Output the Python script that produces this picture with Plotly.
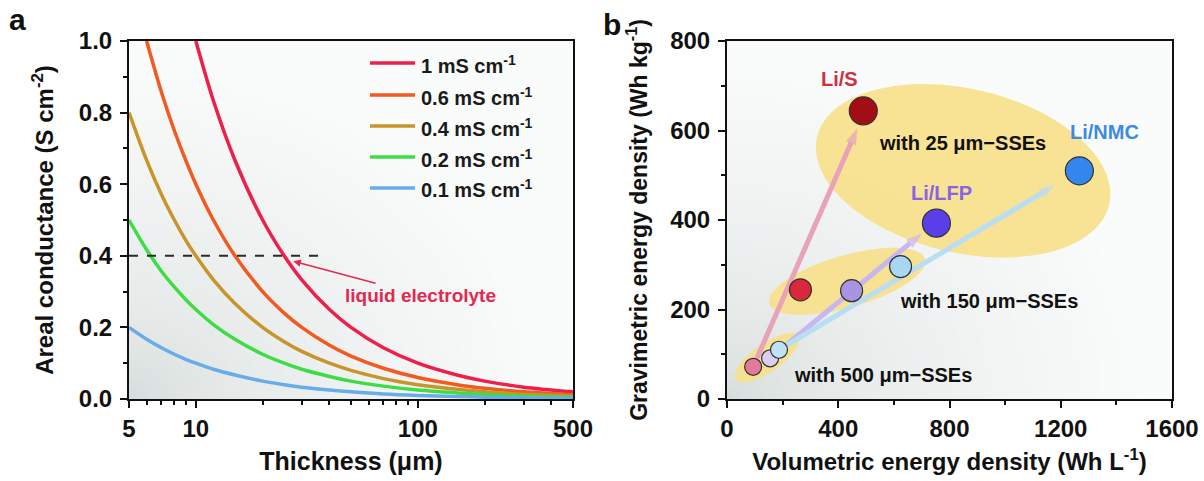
import math, zlib, struct, base64
import plotly.graph_objects as go

# ---------------- data: panel a ----------------
thickness = [5, 6, 7, 8, 9, 10, 12, 15, 20, 25, 30, 40, 50, 70, 100, 150, 200, 300, 500]
cond_1mS = [None, None, None, None, None, 1.0, 0.833, 0.667, 0.5, 0.4, 0.333, 0.25, 0.2, 0.143, 0.1, 0.067, 0.05, 0.033, 0.02]
cond_06mS = [None, 1.0, 0.857, 0.75, 0.667, 0.6, 0.5, 0.4, 0.3, 0.24, 0.2, 0.15, 0.12, 0.086, 0.06, 0.04, 0.03, 0.02, 0.012]
cond_04mS = [0.8, 0.667, 0.571, 0.5, 0.444, 0.4, 0.333, 0.267, 0.2, 0.16, 0.133, 0.1, 0.08, 0.057, 0.04, 0.027, 0.02, 0.013, 0.008]
cond_02mS = [0.5, 0.417, 0.357, 0.313, 0.278, 0.25, 0.208, 0.167, 0.125, 0.1, 0.083, 0.063, 0.05, 0.036, 0.025, 0.017, 0.0125, 0.008, 0.005]
cond_01mS = [0.2, 0.167, 0.143, 0.125, 0.111, 0.1, 0.083, 0.067, 0.05, 0.04, 0.033, 0.025, 0.02, 0.014, 0.01, 0.007, 0.005, 0.003, 0.002]
series_names = ["1 mS cm<sup>-1</sup>", "0.6 mS cm<sup>-1</sup>", "0.4 mS cm<sup>-1</sup>",
                "0.2 mS cm<sup>-1</sup>", "0.1 mS cm<sup>-1</sup>"]
liquid_x = [5, 36]
liquid_y = [0.4, 0.4]

# ---------------- data: panel b ----------------
chem_names = ["Li/S", "Li/LFP", "Li/NMC"]
sse_labels = ["500 µm", "150 µm", "25 µm"]
lis_vol = [94, 264, 490]
lis_grav = [72, 244, 644]
lfp_vol = [155, 448, 753]
lfp_grav = [91, 242, 393]
nmc_vol = [187, 624, 1267]
nmc_grav = [110, 296, 510]
arrow_tip_vol = [469, 701, 1180]
arrow_tip_grav = [605, 370, 478]
group_labels = ["with 500 μm−SSEs", "with 150 μm−SSEs", "with 25 μm−SSEs"]
group_label_vol = [561, 942, 845]
group_label_grav = [54, 218, 573]
ellipse_center_vol = [144, 432, 849]
ellipse_center_grav = [92, 263, 510]

FONT = "Liberation Sans, Arial, sans-serif"
W, H = 1204, 481
AX_L, AX_R = 129, 573
BX_L, BX_R = 727, 1172
PY_T, PY_B = 41, 399


def gradient_png(n=96):
    lo = (212, 219, 218)
    hi = (250, 251, 251)
    rows = []
    for j in range(n):
        v = 1 - j / (n - 1)
        row = bytearray([0])
        for i in range(n):
            u = i / (n - 1)
            t = min(1.0, math.sqrt(u * u + v * v) / 0.95) ** 0.55
            for k in range(3):
                row.append(int(round(lo[k] + (hi[k] - lo[k]) * t)))
        rows.append(bytes(row))
    raw = b"".join(rows)

    def chunk(tag, data):
        c = struct.pack(">I", len(data)) + tag + data
        return c + struct.pack(">I", zlib.crc32(tag + data) & 0xffffffff)

    png = b"\x89PNG\r\n\x1a\n" + chunk(b"IHDR", struct.pack(">IIBBBBB", n, n, 8, 2, 0, 0, 0)) \
        + chunk(b"IDAT", zlib.compress(raw, 9)) + chunk(b"IEND", b"")
    return "data:image/png;base64," + base64.b64encode(png).decode()


bg = gradient_png()
fig = go.Figure()

# ---------- panel a ----------
curve_colors = ["#ee1f4b", "#f25a20", "#c8952b", "#3fdc45", "#68acea"]
for name, ys, col in zip(series_names, [cond_1mS, cond_06mS, cond_04mS, cond_02mS, cond_01mS], curve_colors):
    fig.add_trace(go.Scatter(x=thickness, y=ys, mode="lines", name=name, showlegend=False,
                             line=dict(color=col, width=3.5, shape="spline", smoothing=0.8),
                             xaxis="x", yaxis="y"))
fig.add_trace(go.Scatter(x=liquid_x, y=liquid_y, mode="lines", showlegend=False, name="liquid electrolyte",
                         line=dict(color="#2a2a2a", width=2, dash="dash"), xaxis="x", yaxis="y"))

# ---------- panel b ----------
arrow_colors = ["#e9a3b8", "#c8b6ef", "#b9ddf3"]
starts = [(lis_vol[0], lis_grav[0]), (lfp_vol[0], lfp_grav[0]), (nmc_vol[0], nmc_grav[0])]
for (sx, sy), tx, ty, col in zip(starts, arrow_tip_vol, arrow_tip_grav, arrow_colors):
    fig.add_trace(go.Scatter(x=[sx, tx], y=[sy, ty], mode="lines+markers", showlegend=False,
                             line=dict(color=col, width=5),
                             marker=dict(symbol=["circle", "arrow"], size=[0, 17], color=col,
                                         angleref="previous", line=dict(width=0)),
                             hoverinfo="skip", xaxis="x2", yaxis="y2"))

marker_sizes = [17, 22, 28]
marker_colors = [["#e27b99", "#d9283c", "#a20d16"],
                 ["#dacff3", "#a994e2", "#5b3fe6"],
                 ["#c0e1f6", "#a9d6f2", "#3386ee"]]
for name, xs, ys, cols in zip(chem_names, [lis_vol, lfp_vol, nmc_vol], [lis_grav, lfp_grav, nmc_grav], marker_colors):
    fig.add_trace(go.Scatter(x=xs, y=ys, mode="markers", name=name, showlegend=False, text=sse_labels,
                             marker=dict(size=marker_sizes, color=cols, opacity=1,
                                         line=dict(color="#333333", width=1.2)),
                             xaxis="x2", yaxis="y2"))

# ---------- ellipses ----------
x_ppu = (BX_R - BX_L) / 1600.0
y_ppu = (PY_B - PY_T) / 800.0
ell_geom = [(38, 14, -35), (81, 26, -16), (150, 82, 13)]
shapes = []
for cx, cy, (a, b, ang) in zip(ellipse_center_vol, ellipse_center_grav, ell_geom):
    th = math.radians(ang)
    pts = []
    for k in range(72):
        p = 2 * math.pi * k / 72
        dx = a * math.cos(p) * math.cos(th) - b * math.sin(p) * math.sin(th)
        dy = a * math.cos(p) * math.sin(th) + b * math.sin(p) * math.cos(th)
        pts.append((cx + dx / x_ppu, cy - dy / y_ppu))
    path = "M " + " L ".join(f"{x:.2f},{y:.2f}" for x, y in pts) + " Z"
    shapes.append(dict(type="path", path=path, xref="x2", yref="y2", layer="between",
                       fillcolor="rgba(247,224,138,0.92)", line=dict(width=0)))

# ---------- manual legend (panel a) ----------
leg_rows_px = [63, 95, 126, 157, 188]
annotations = []
for name, col, ry in zip(series_names, curve_colors, leg_rows_px):
    shapes.append(dict(type="line", xref="paper", yref="paper",
                       x0=370 / W, x1=415 / W, y0=1 - ry / H, y1=1 - ry / H,
                       line=dict(color=col, width=3.5)))
    annotations.append(dict(text=name, xref="paper", yref="paper", x=419 / W, y=1 - (ry + 1) / H,
                            xanchor="left", yanchor="middle", showarrow=False,
                            font=dict(family=FONT, size=20, color="#1a1a1a", weight="bold")))

annotations.append(dict(text="liquid electrolyte", x=math.log10(27.5), y=0.385, xref="x", yref="y",
                        ax=127, ay=34, showarrow=True, arrowhead=2, arrowsize=1, arrowwidth=1.5,
                        arrowcolor="#e3294f", standoff=0,
                        font=dict(family=FONT, size=19, color="#e3294f", weight="bold")))

label_cols = ["#d2303f", "#8a63e6", "#3b8ae6"]
label_pos = [(403, 714), (773, 461), (1359, 596)]
for name, col, (lx, ly) in zip(chem_names, label_cols, label_pos):
    annotations.append(dict(text=name, x=lx, y=ly, xref="x2", yref="y2", showarrow=False,
                            font=dict(family=FONT, size=20, color=col, weight="bold")))
for txt, lx, ly in zip(group_labels, group_label_vol, group_label_grav):
    annotations.append(dict(text=txt, x=lx, y=ly, xref="x2", yref="y2", showarrow=False,
                            font=dict(family=FONT, size=20, color="#111111", weight="bold")))

annotations.append(dict(text="a", x=17 / W, y=1 - 19 / H, xref="paper", yref="paper", showarrow=False,
                        xanchor="center", yanchor="middle",
                        font=dict(family=FONT, size=30, color="#111111", weight="bold")))
annotations.append(dict(text="b", x=612 / W, y=1 - 24 / H, xref="paper", yref="paper", showarrow=False,
                        xanchor="center", yanchor="middle",
                        font=dict(family=FONT, size=30, color="#111111", weight="bold")))

tickfont = dict(family=FONT, size=24, color="#111111", weight="bold")
titlefont = dict(family=FONT, size=24, color="#111111", weight="bold")
common = dict(showline=True, linecolor="#111111", linewidth=2, mirror=True, ticks="outside",
              ticklen=7, tickwidth=2, tickcolor="#111111", showgrid=False, zeroline=False,
              tickfont=tickfont, automargin=False)
minor_style = dict(ticks="outside", ticklen=4, tickwidth=1.5, tickcolor="#111111")

ydom = [1 - PY_B / H, 1 - PY_T / H]
fig.update_layout(
    width=W, height=H, margin=dict(l=0, r=0, t=0, b=0, autoexpand=False), autosize=False,
    paper_bgcolor="white", plot_bgcolor="#f4f6f6", showlegend=False,
    xaxis=dict(domain=[AX_L / W, AX_R / W], type="log", range=[math.log10(5), math.log10(500)],
               tickmode="array", tickvals=[5, 10, 100, 500], ticktext=["5", "10", "100", "500"],
               minor=dict(tickmode="array", tickvals=[6, 7, 8, 9, 20, 30, 40, 50, 60, 70, 80, 90, 200, 300, 400],
                          **minor_style),
               title=dict(text="Thickness (μm)", font=dict(titlefont, size=25), standoff=12),
               anchor="y", **common),
    yaxis=dict(domain=ydom, range=[0, 1], tickmode="linear", tick0=0, dtick=0.2, tickformat=".1f",
               minor=dict(dtick=0.1, **minor_style), ticklabelstandoff=3,
               title=dict(text="Areal conductance (S cm<sup>-2</sup>)", font=titlefont, standoff=18),
               anchor="x", **common),
    xaxis2=dict(domain=[BX_L / W, BX_R / W], range=[0, 1600], tickmode="linear", tick0=0, dtick=400,
                minor=dict(dtick=200, **minor_style),
                title=dict(text="Volumetric energy density (Wh L<sup>-1</sup>)", font=titlefont, standoff=12),
                anchor="y2", **common),
    yaxis2=dict(domain=ydom, range=[0, 800], tickmode="linear", tick0=0, dtick=200,
                minor=dict(dtick=100, **minor_style), ticklabelstandoff=3,
                title=dict(text="Gravimetric energy density (Wh kg<sup>-1</sup>)",
                           font=dict(titlefont, size=23), standoff=16),
                anchor="x2", **common),
    shapes=shapes, annotations=annotations,
    images=[dict(source=bg, xref="x domain", yref="y domain", x=0, y=1, sizex=1, sizey=1,
                 sizing="stretch", layer="below", xanchor="left", yanchor="top"),
            dict(source=bg, xref="x2 domain", yref="y2 domain", x=0, y=1, sizex=1, sizey=1,
                 sizing="stretch", layer="below", xanchor="left", yanchor="top")],
)

fig.write_html("out.html", config={"displayModeBar": False},
               post_script="document.body.style.margin='0';document.body.style.overflow='hidden';")
